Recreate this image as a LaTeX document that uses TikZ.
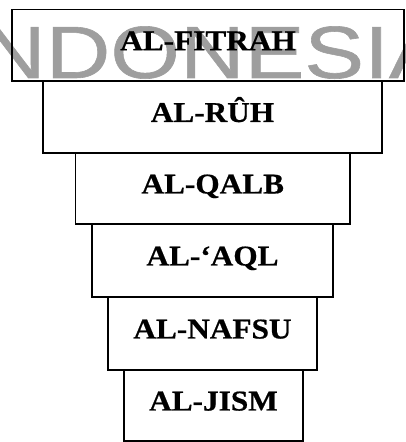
\documentclass[tikz,border=0pt]{standalone}
\usepackage{fontspec}
\setmainfont{Liberation Serif}[FakeStretch=1.09,BoldFeatures={FakeBold=0.6}]
\newfontfamily\wmfont{Liberation Sans}[FakeStretch=1.21,FakeBold=0.8]
\usepackage{tikz}
\usetikzlibrary{positioning}

\begin{document}
\begin{tikzpicture}[x=1pt,y=1pt,line width=1.5pt]
	\def \rowone{396.75}
	\def \rowtwo{325}
	\def \rowthree{253.5}
	\def \rowfour{181.5}
	\def \rowfive{108.5}
	\def \rowsix{36.5}
	\tikzstyle{l-node}=[draw,rectangle,inner sep=0pt,text height=19pt,text depth=9pt,font=\bfseries\fontsize{28.7}{30}\selectfont]
	\tikzstyle{wm}=[text=black!38,inner sep=0pt,font=\wmfont\fontsize{74}{74}\selectfont]
	\useasboundingbox (0,0) rectangle (406,442);
	
	% watermark
	\begin{scope}
		\clip (0,0) rectangle (406,442);
		\node[wm,anchor=base west] (wmark) at (-44.6,364) {INDONESIA};
	\end{scope}
	
	% layers
	\node[l-node,minimum width=392pt,minimum height=71.5pt] 	(fitrah)	at (208,\rowone)	{AL-FITRAH};
	\node[l-node,minimum width=339pt,minimum height=72pt] 	(ruh)		at (212.5,\rowtwo)	{AL-RÛH};
	\node[l-node,minimum width=274.5pt,minimum height=71pt] 	(qalb)		at (212.75,\rowthree)	{AL-QALB};
	\node[l-node,minimum width=241pt,minimum height=73pt] 	(aql)		at (212.5,\rowfour)	{AL-‘AQL};
	\node[l-node,minimum width=209pt,minimum height=73pt] 	(nafsu)		at (212.5,\rowfive)	{AL-NAFSU};
	\node[l-node,minimum width=179pt,minimum height=71pt] 	(jism)		at (213.5,\rowsix)	{AL-JISM};
	%\node[l-node] (badan) at (213.5,0) {};
	
\end{tikzpicture}
\end{document}
